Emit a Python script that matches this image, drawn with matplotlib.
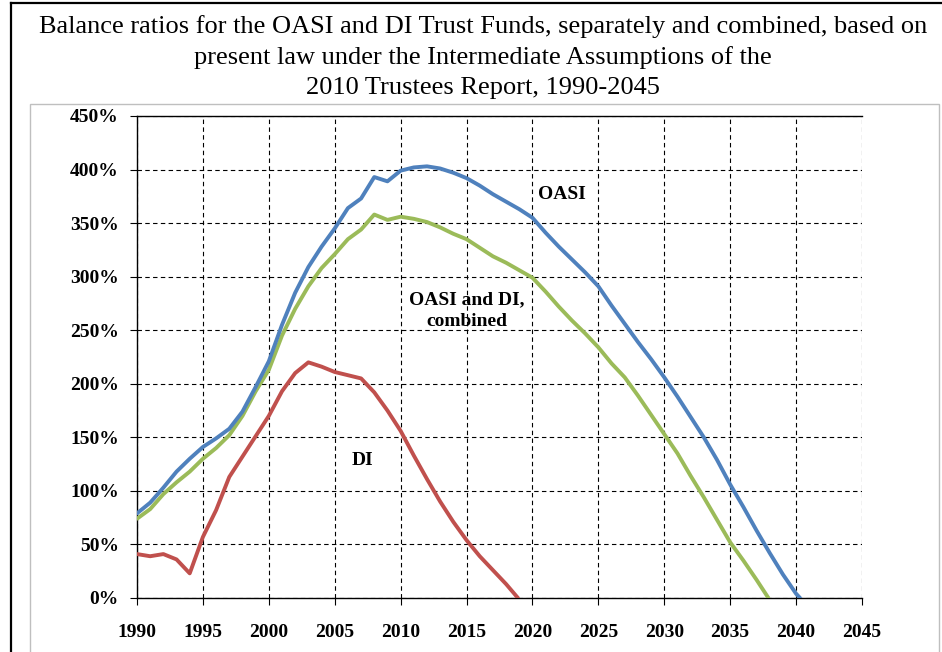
import matplotlib
matplotlib.use("Agg")
import matplotlib.pyplot as plt
from matplotlib.lines import Line2D
from matplotlib.patches import Rectangle
from matplotlib.ticker import FuncFormatter

# balance ratios (%)
years = list(range(1990, 2041))

oasi = [79, 89, 103, 118, 130, 141, 149, 158, 174, 197,
        221, 255, 285, 309, 328, 345, 364, 373, 393, 389,
        399, 402, 403, 401, 397, 392, 385, 377, 370, 363,
        355, 341, 328, 316, 304, 291, 273, 256, 239, 223,
        206, 188, 169, 150, 129, 106, 85, 63, 42, 22, 4]
oasi_end = (2040.3, 0)

combined = [74, 83, 97, 108, 118, 130, 140, 152, 170, 193,
            213, 245, 270, 291, 308, 321, 335, 344, 358, 353,
            356, 354, 351, 346, 340, 335, 327, 319, 313, 306,
            299, 286, 272, 259, 247, 234, 219, 206, 189, 171,
            153, 135, 114, 94, 73, 52, 35, 17]
combined_end = (2037.9, 0)

di = [41, 39, 41, 36, 23, 57, 82, 113, 132, 151,
      170, 193, 210, 220, 216, 211, 208, 205, 192, 175,
      156, 133, 111, 90, 71, 54, 39, 26, 13]
di_end = (2018.9, 0)

title = ("Balance ratios for the OASI and DI Trust Funds, separately and combined, based on\n"
         "present law under the Intermediate Assumptions of the\n"
         "2010 Trustees Report, 1990-2045")

blue = '#4F81BD'
green = '#9BBB59'
red = '#C0504D'

W, H = 942, 652
fig = plt.figure(figsize=(W / 100, H / 100), dpi=100)

def fx(px):
  return px / W

def fy(py):
  return 1 - py / H

# outer frame (top + left black rules) and grey chart box
fig.add_artist(Line2D([fx(11), fx(942)], [fy(2.5), fy(2.5)], color='black', lw=1.6))
fig.add_artist(Line2D([fx(11), fx(11)], [fy(2.5), fy(652)], color='black', lw=1.6))
fig.add_artist(Rectangle((fx(30), fy(660)), fx(939) - fx(30), fy(104) - fy(660),
                         fill=False, edgecolor='#BFBFBF', lw=1.0))

fig.text(fx(483), fy(15), title, ha='center', va='top', fontsize=19,
         family='Liberation Serif', linespacing=1.45)

ax = fig.add_axes([fx(137), fy(598), fx(862) - fx(137), fy(116) - fy(598)])

def series(vals, end):
  xs = years[:len(vals)] + [end[0]]
  ys = vals + [end[1]]
  return xs, ys

for vals, end, c in [(di, di_end, red), (combined, combined_end, green), (oasi, oasi_end, blue)]:
  xs, ys = series(vals, end)
  ax.plot(xs, ys, color=c, lw=2.8, solid_capstyle='round', solid_joinstyle='round', zorder=3)

ax.set_xlim(1990, 2045)
ax.set_ylim(0, 450)
ax.set_xticks(range(1990, 2046, 5))
ax.set_yticks(range(0, 451, 50))
ax.yaxis.set_major_formatter(FuncFormatter(lambda v, p: f'{int(v)}%'))

ax.grid(True, color='black', linestyle=(0, (4, 3)), lw=0.8)
ax.set_axisbelow(True)
for s in ['left', 'bottom', 'top']:
  ax.spines[s].set_color('black')
  ax.spines[s].set_linewidth(1.0)
ax.spines['right'].set_visible(False)
ax.tick_params(direction='out', length=5, width=0.8, color='black')
ax.tick_params(axis='x', pad=14)
ax.tick_params(axis='y', pad=8)
for lab in ax.get_xticklabels():
  lab.set_fontfamily('Liberation Serif')
  lab.set_fontweight('bold')
  lab.set_fontsize(14)
for lab in ax.get_yticklabels():
  lab.set_fontfamily('Liberation Serif')
  lab.set_fontweight('bold')
  lab.set_fontsize(14)

lab_kw = dict(family='Liberation Serif', fontweight='bold', fontsize=14, ha='center', va='center')
ax.text(2022.2, 377, 'OASI', **lab_kw)
ax.text(2015.0, 268, 'OASI and DI,\ncombined', linespacing=1.35, **lab_kw)
ax.text(2007.1, 128, 'DI', **lab_kw)

fig.savefig('out.png', dpi=100)
